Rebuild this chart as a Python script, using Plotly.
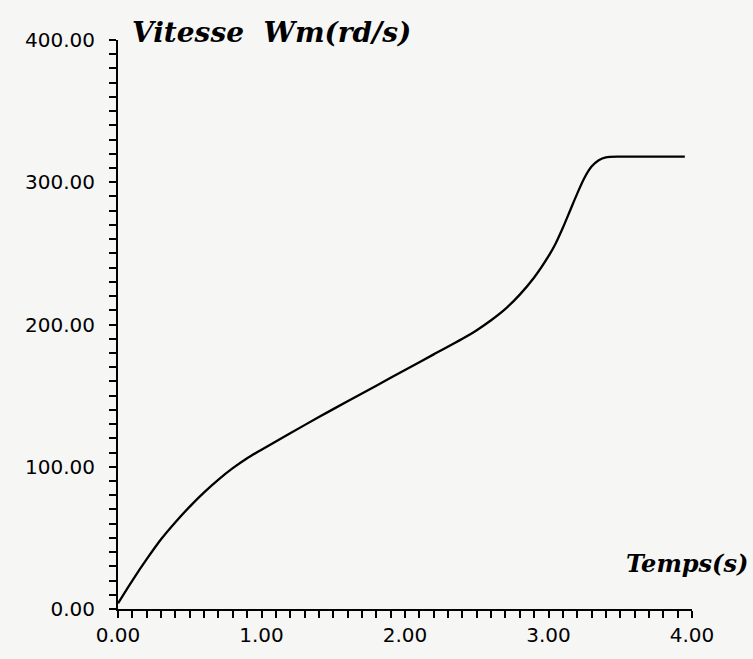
import plotly.graph_objects as go

# Data (time in s, speed in rad/s)
temps = [0.0, 0.1, 0.2, 0.3, 0.4, 0.5, 0.6, 0.7, 0.8, 0.9, 1.0, 1.2, 1.4, 1.6,
         1.8, 2.0, 2.2, 2.4, 2.5, 2.6, 2.7, 2.8, 2.9, 3.0, 3.05, 3.1, 3.15, 3.2,
         3.25, 3.3, 3.35, 3.4, 3.5, 3.7, 3.95]
vitesse = [4, 20, 35, 49, 61, 72, 82, 91, 99, 106, 112, 123.5, 135, 146,
           157, 168, 179, 190, 196, 203, 211, 221, 233, 248, 257, 268, 280, 292,
           303, 311, 315.5, 317.5, 318, 318, 318]

x_ticks = [0, 1, 2, 3, 4]
y_ticks = [0, 100, 200, 300, 400]
y_title = "Vitesse  Wm(rd/s)"
x_title = "Temps(s)"

fig = go.Figure()
fig.add_trace(go.Scatter(x=temps, y=vitesse, mode="lines",
                         line=dict(color="black", width=2.3, shape="spline", smoothing=0.8),
                         showlegend=False, hoverinfo="skip"))

axis_common = dict(showline=True, linecolor="black", linewidth=2, showgrid=False,
                   zeroline=False, ticks="outside", ticklen=7, tickwidth=1.6,
                   tickcolor="black", tickformat=".2f",
                   tickfont=dict(family="DejaVu Sans", size=20, color="black"))

fig.update_xaxes(range=[0, 4], tickvals=x_ticks,
                 minor=dict(dtick=0.1, ticks="outside", ticklen=7, tickwidth=1.6,
                            tickcolor="black", showgrid=False),
                 **axis_common)
fig.update_yaxes(range=[0, 400], tickvals=y_ticks, ticklabelstandoff=10,
                 minor=dict(dtick=10, ticks="outside", ticklen=7, tickwidth=1.6,
                            tickcolor="black", showgrid=False),
                 **axis_common)

fig.add_annotation(text="<b><i>" + y_title + "</i></b>", xref="paper", yref="paper",
                   x=0.021, y=1.014, xanchor="left", yanchor="middle",
                   showarrow=False, font=dict(family="DejaVu Serif", size=28, color="black"))
fig.add_annotation(text="<b><i>" + x_title + "</i></b>", xref="paper", yref="paper",
                   x=1.101, y=0.080, xanchor="right", yanchor="middle",
                   showarrow=False, font=dict(family="DejaVu Serif", size=24, color="black"))

fig.update_layout(width=753, height=659,
                  margin=dict(l=118, r=61, t=40, b=47),
                  paper_bgcolor="#f6f6f5", plot_bgcolor="#f6f6f5")

fig.write_html("out.html")
